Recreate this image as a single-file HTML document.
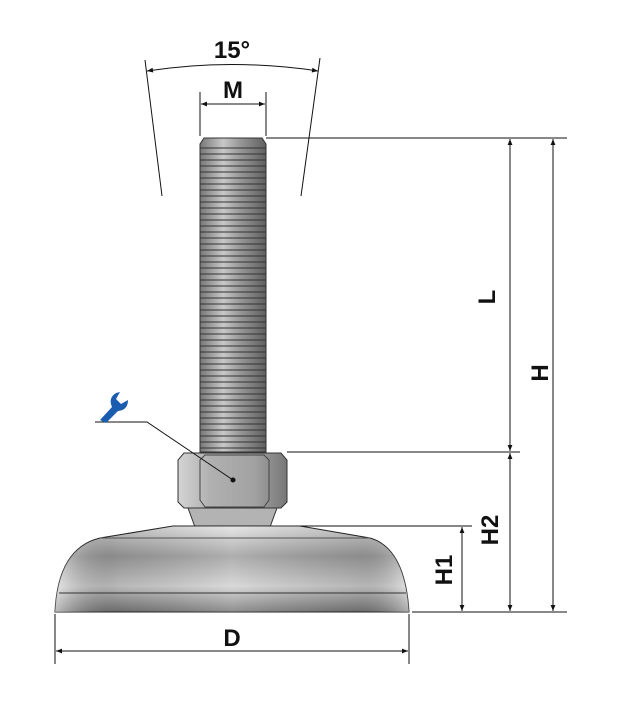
<!DOCTYPE html>
<html><head><style>
html,body{margin:0;padding:0;background:#fff;}
svg{display:block;}
text{font-family:"Liberation Sans",sans-serif;font-weight:bold;fill:#111;}
</style></head><body>
<svg width="622" height="720" viewBox="0 0 622 720" xmlns="http://www.w3.org/2000/svg">
<defs>
<marker id="a" viewBox="0 0 10 10" refX="10" refY="5" markerWidth="8" markerHeight="6" orient="auto-start-reverse"><path d="M0,1 L10,5 L0,9 z" fill="#111"/></marker>
<linearGradient id="stud" x1="0" x2="1"><stop offset="0" stop-color="#777"/><stop offset=".35" stop-color="#c8c8c8"/><stop offset=".6" stop-color="#999"/><stop offset="1" stop-color="#606060"/></linearGradient>
<pattern id="thr" width="66" height="6" patternUnits="userSpaceOnUse"><rect y="3" width="66" height="2" fill="#333" opacity=".5"/></pattern>
<linearGradient id="nut" x1="0" x2="1"><stop offset="0" stop-color="#d4d4d4"/><stop offset=".3" stop-color="#b0b0b0"/><stop offset=".7" stop-color="#a2a2a2"/><stop offset="1" stop-color="#777"/></linearGradient>
<linearGradient id="base" x1="0" x2="0" y1="0" y2="1"><stop offset="0" stop-color="#e2e2e2"/><stop offset=".35" stop-color="#a0a0a0"/><stop offset=".7" stop-color="#d2d2d2"/><stop offset="1" stop-color="#7a7a7a"/></linearGradient>
<linearGradient id="baseh" x1="0" x2="1"><stop offset="0" stop-color="#fff" stop-opacity=".5"/><stop offset=".18" stop-color="#000" stop-opacity=".12"/><stop offset=".5" stop-color="#fff" stop-opacity=".15"/><stop offset=".85" stop-color="#000" stop-opacity=".12"/><stop offset="1" stop-color="#fff" stop-opacity=".4"/></linearGradient>
</defs>
<path d="M204,138 L262,138 L266,144 L266,452 L200,452 L200,144 Z" fill="url(#stud)" stroke="#333" stroke-width="1"/>
<rect x="200" y="146" width="66" height="306" fill="url(#thr)"/>
<path d="M188,508 L277,508 L270,527 L195,527 Z" fill="#b3b3b3" stroke="#333"/>
<path d="M184,453 L281,453 L287,460 L287,502 L281,508 L184,508 L178,502 L178,460 Z" fill="url(#nut)" stroke="#333"/>
<path d="M205,455 L264,455 L269,460 L269,500 L264,507 L205,507 L200,500 L200,460 Z" fill="none" stroke="#444"/>
<path d="M173,526 L300,526 L370,538 Q405,548 409,612 L55,612 Q58,548 100,538 Z" fill="url(#base)" stroke="#222"/>
<path d="M173,526 L300,526 L370,538 Q405,548 409,612 L55,612 Q58,548 100,538 Z" fill="url(#baseh)"/>
<line x1="100" y1="538" x2="370" y2="538" stroke="#555"/>
<line x1="59" y1="593" x2="406" y2="593" stroke="#333"/>
<g stroke="#111" stroke-width="1" fill="none">
<line x1="266" y1="138" x2="567" y2="138"/>
<line x1="287" y1="452" x2="520" y2="452"/>
<line x1="300" y1="526" x2="472" y2="526"/>
<line x1="412" y1="612" x2="567" y2="612"/>
<line x1="55" y1="614" x2="55" y2="664"/>
<line x1="409" y1="614" x2="409" y2="664"/>
<line x1="200" y1="92" x2="200" y2="136"/>
<line x1="266" y1="92" x2="266" y2="136"/>
<line x1="145" y1="60" x2="162" y2="196"/>
<line x1="320" y1="58" x2="301" y2="196"/>
<line x1="201" y1="104" x2="265" y2="104" marker-start="url(#a)" marker-end="url(#a)"/>
<path d="M147,71 Q232,58 318,71" marker-start="url(#a)" marker-end="url(#a)"/>
<line x1="510" y1="139" x2="510" y2="451" marker-start="url(#a)" marker-end="url(#a)"/>
<line x1="553" y1="139" x2="553" y2="611" marker-start="url(#a)" marker-end="url(#a)"/>
<line x1="510" y1="453" x2="510" y2="611" marker-start="url(#a)" marker-end="url(#a)"/>
<line x1="462" y1="527" x2="462" y2="611" marker-start="url(#a)" marker-end="url(#a)"/>
<line x1="56" y1="651" x2="408" y2="651" marker-start="url(#a)" marker-end="url(#a)"/>
<polyline points="95,422 147,422 233,480"/>
</g>
<circle cx="233" cy="480" r="2.5" fill="#111"/>
<path d="M100,420 L112,407 Q108,398 116,393 L120,392 L116,399 L121,404 L128,400 Q128,410 118,411 L106,423 Z" fill="#1a5cb0"/>
<text x="232" y="58" font-size="24" text-anchor="middle">15°</text>
<text x="233" y="98" font-size="24" text-anchor="middle">M</text>
<text x="232" y="646" font-size="24" text-anchor="middle">D</text>
<text transform="translate(495,297) rotate(-90)" font-size="24" text-anchor="middle">L</text>
<text transform="translate(548,373) rotate(-90)" font-size="24" text-anchor="middle">H</text>
<text transform="translate(498,530) rotate(-90)" font-size="24" text-anchor="middle">H2</text>
<text transform="translate(452,570) rotate(-90)" font-size="24" text-anchor="middle">H1</text>
</svg>
</body></html>
